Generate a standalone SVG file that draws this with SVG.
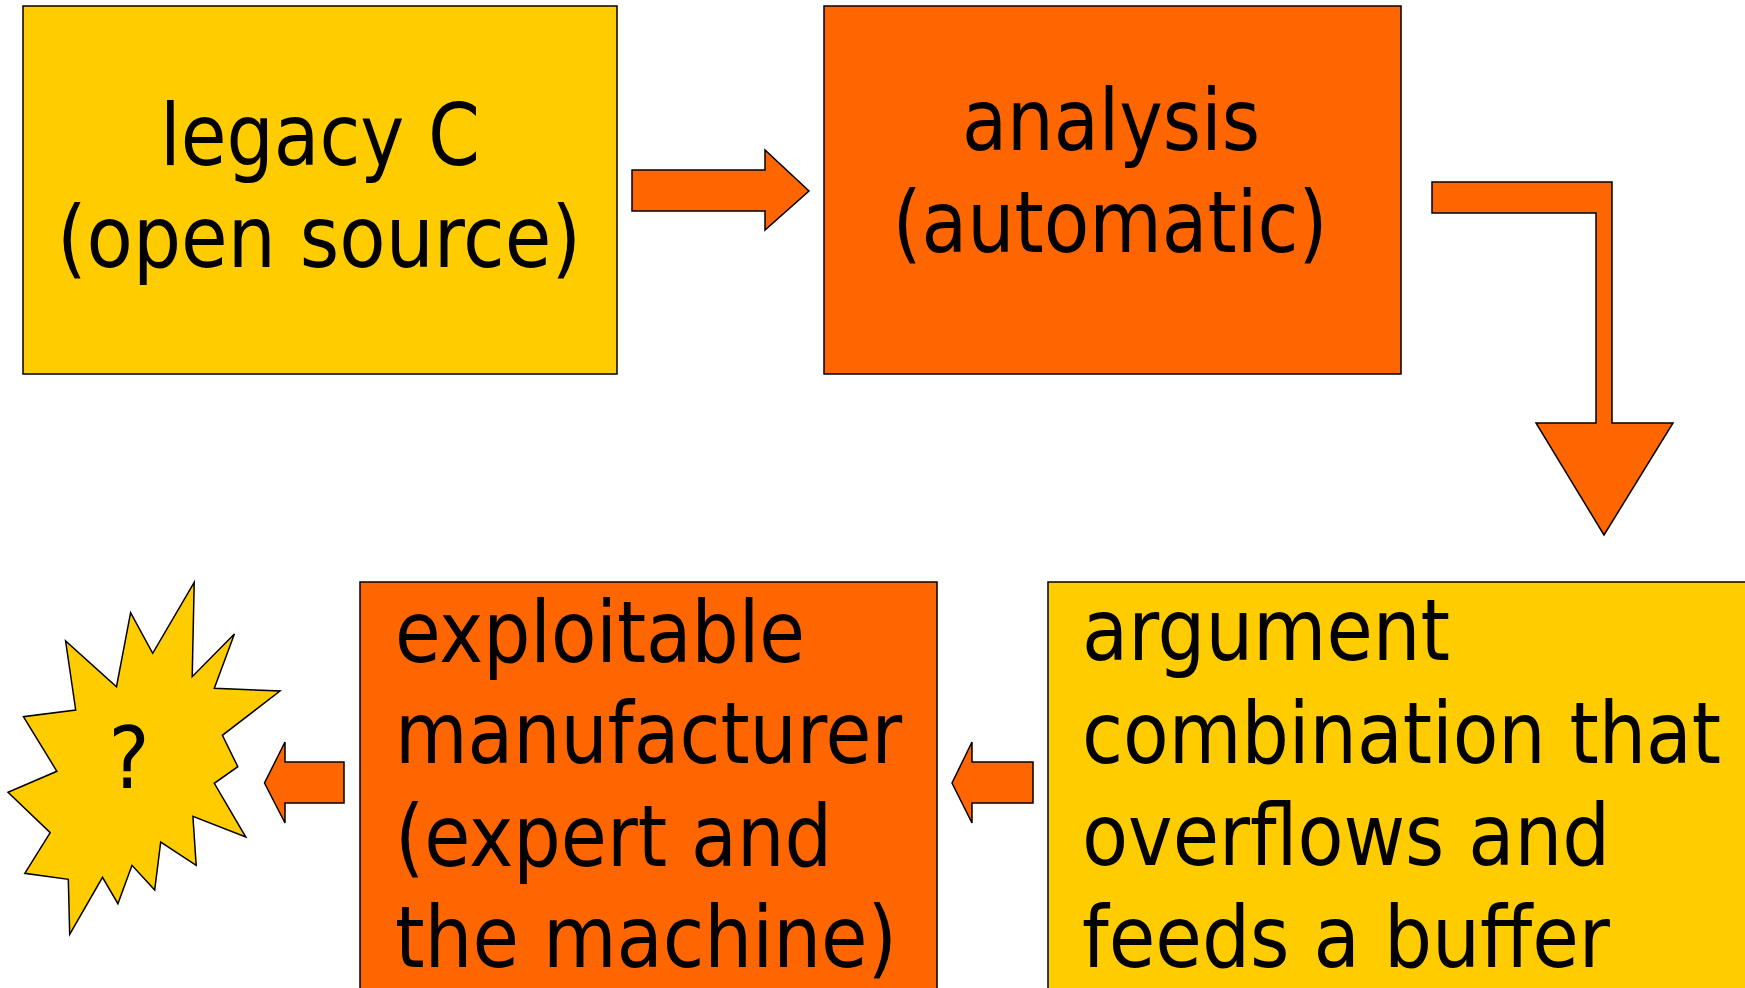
<svg xmlns="http://www.w3.org/2000/svg" width="1745" height="988" viewBox="0 0 1745 988">
<style>
.y{fill:#FFCC00;stroke:#000;stroke-width:1.5}
.o{fill:#FF6600;stroke:#000;stroke-width:1.5}
.t{font-family:"DejaVu Sans Condensed","DejaVu Sans",sans-serif;font-stretch:condensed;font-size:86px;fill:#000}
.c{text-anchor:middle}
</style>
<rect width="1745" height="988" fill="#fff"/>
<g id="legacy">
<rect class="y" x="23" y="6" width="594" height="368"/>
<text class="t c" x="320" y="165" textLength="320" lengthAdjust="spacingAndGlyphs">legacy C</text>
<text class="t c" x="319" y="267" textLength="524" lengthAdjust="spacingAndGlyphs">(open source)</text>
</g>
<g id="analysis">
<rect class="o" x="824" y="6" width="577" height="368"/>
<text class="t c" x="1111" y="150" textLength="298" lengthAdjust="spacingAndGlyphs">analysis</text>
<text class="t c" x="1110" y="252" textLength="435" lengthAdjust="spacingAndGlyphs">(automatic)</text>
</g>
<g id="argument">
<rect class="y" x="1048" y="582" width="710" height="420"/>
<text class="t" x="1082" y="660" textLength="368" lengthAdjust="spacingAndGlyphs">argument</text>
<text class="t" x="1082" y="763" textLength="639" lengthAdjust="spacingAndGlyphs">combination that</text>
<text class="t" x="1082" y="865" textLength="528" lengthAdjust="spacingAndGlyphs">overflows and</text>
<text class="t" x="1082" y="967" textLength="528" lengthAdjust="spacingAndGlyphs">feeds a buffer</text>
</g>
<g id="exploitable">
<rect class="o" x="360" y="582" width="577" height="420"/>
<text class="t" x="395" y="662" textLength="410" lengthAdjust="spacingAndGlyphs">exploitable</text>
<text class="t" x="395" y="763" textLength="507" lengthAdjust="spacingAndGlyphs">manufacturer</text>
<text class="t" x="395" y="866" textLength="437" lengthAdjust="spacingAndGlyphs">(expert and</text>
<text class="t" x="395" y="967" textLength="502" lengthAdjust="spacingAndGlyphs">the machine)</text>
</g>
<g id="unknown">
<polygon class="y" points="194.2,582.3 192.2,676.7 234.4,634 214.3,688.3 280,691 222.4,735.3 237.8,766.7 214.3,783.3 245.8,837 192.9,816.3 196.2,865.3 160.7,842 154.7,890 132,865.3 117.9,903.7 102.5,877.3 69.7,934.3 68.3,879.3 24.8,873.3 50.2,832.7 8,792.3 56.9,771.3 23.4,716.7 75.7,710 65.6,641 116.5,686.7 130.6,612.7 152.7,653.3"/>
<text class="t c" x="129" y="788">?</text>
</g>
<g id="connectors">
<polygon class="o" points="632,170 765,170 765,150 809,191 765,230 765,211 632,211"/>
<polygon class="o" points="1432,182 1612,182 1612,423 1673,423 1604,535 1536,423 1596,423 1596,213 1432,213"/>
<polygon class="o" points="1033,762 972,762 972,742 952,783 972,823 972,803 1033,803"/>
<polygon class="o" points="344,762 285,762 285,742 264.5,783 285,823 285,803 344,803"/>
</g>
</svg>
